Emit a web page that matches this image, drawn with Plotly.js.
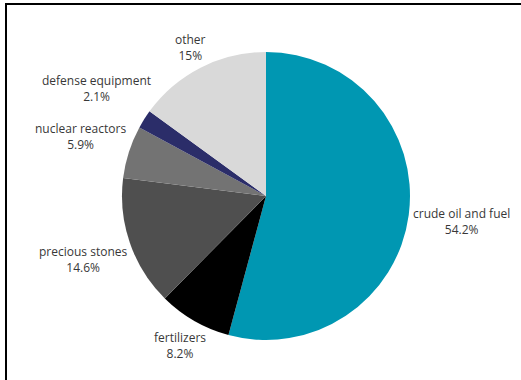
<!DOCTYPE html>
<html>
<head>
<meta charset="utf-8">
<script src="https://cdn.plot.ly/plotly-3.0.1.min.js"></script>
<style>
  html, body { margin: 0; padding: 0; background: #fff; }
  #wrap { position: relative; width: 521px; height: 380px; overflow: hidden; }
  #chart { position: absolute; left: 0; top: 0; width: 521px; height: 380px; }
  #frame { position: absolute; left: 5px; top: 3px; width: 530px; height: 400px;
           border-top: 2px solid #000; border-left: 2px solid #000; pointer-events: none; }
</style>
</head>
<body>
<div id="wrap">
  <div id="chart"></div>
  <div id="frame"></div>
</div>
<script>
const categories = ["crude oil and fuel", "fertilizers", "precious stones", "nuclear reactors", "defense equipment", "other"];
const shares = [54.2, 8.2, 14.6, 5.9, 2.1, 15.0];
const colors = ["#0097b2", "#000000", "#4f4f4f", "#737373", "#2b2d69", "#d9d9d9"];

const W = 521, H = 380;
const margin = { l: 20, r: 9, t: 52, b: 40 };
const fontFamily = "Open Sans, sans-serif";
const fontSize = 12;

// pie geometry from layout (domain = full plot area)
const plotW = W - margin.l - margin.r;
const plotH = H - margin.t - margin.b;
const cx = margin.l + plotW / 2;
const cy = margin.t + plotH / 2;
const R = Math.min(plotW, plotH) / 2;

const canvas = document.createElement("canvas");
const ctx = canvas.getContext("2d");
ctx.font = fontSize + "px 'Open Sans'";

const total = shares.reduce((a, b) => a + b, 0);
const annotations = [];
let cum = 0;
shares.forEach((v, i) => {
  const mid = (cum + v / 2) / total;
  cum += v;
  const theta = 2 * Math.PI * mid;          // clockwise from 12 o'clock
  const dx = Math.sin(theta);
  const dy = -Math.cos(theta);              // screen y downwards
  const pct = parseFloat((v / total * 100).toFixed(1)) + "%";
  const w = Math.max(ctx.measureText(categories[i]).width, ctx.measureText(pct).width);
  const h = 2 * fontSize * 1.2;
  const dist = R + 3 + Math.abs(dx) * w / 2 + Math.abs(dy) * h / 2;
  const px = cx + dx * dist;
  const py = cy + dy * dist;
  annotations.push({
    xref: "paper", yref: "paper",
    x: (px - margin.l) / plotW,
    y: 1 - (py - margin.t) / plotH,
    xanchor: "center", yanchor: "middle",
    showarrow: false,
    align: "center",
    text: categories[i] + "<br>" + pct,
    font: { family: fontFamily, size: fontSize, color: "#383838" }
  });
});

const data = [{
  type: "pie",
  labels: categories,
  values: shares,
  sort: false,
  direction: "clockwise",
  rotation: 0,
  marker: { colors: colors, line: { width: 0 } },
  textinfo: "none",
  hoverinfo: "none",
  showlegend: false
}];

const layout = {
  width: W, height: H,
  margin: margin,
  paper_bgcolor: "#ffffff",
  showlegend: false,
  annotations: annotations
};

Plotly.newPlot("chart", data, layout, { displayModeBar: false, staticPlot: true });
</script>
</body>
</html>
